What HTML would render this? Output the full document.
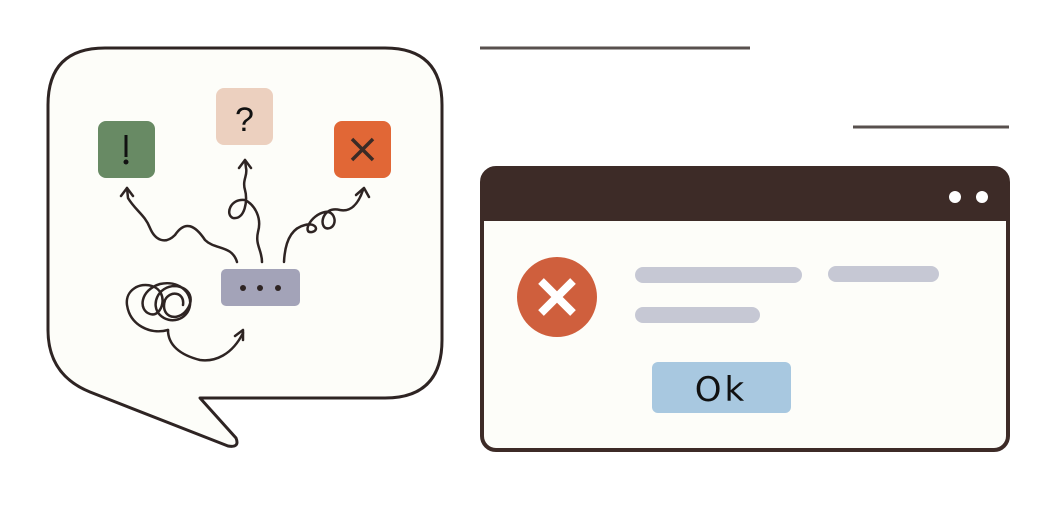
<!DOCTYPE html>
<html><head><style>
html,body{margin:0;padding:0;background:#fff;}
</style></head><body>
<svg width="1056" height="500" viewBox="0 0 1056 500" xmlns="http://www.w3.org/2000/svg">
<rect width="1056" height="500" fill="#fff"/>
<line x1="480" y1="48" x2="750" y2="48" stroke="#58504e" stroke-width="3"/>
<line x1="853" y1="127" x2="1009" y2="127" stroke="#58504e" stroke-width="3"/>
<path d="M105 48 H385 Q442 48 442 105 V340 Q442 398 385 398 H200 L236 438 Q240 448 228 446 L90 392 Q48 375 48 330 V105 Q48 48 105 48 Z" fill="#fdfdf9" stroke="#2e2423" stroke-width="3" stroke-linejoin="round"/>
<rect x="98" y="121" width="57" height="57" rx="8" fill="#688a64"/>
<rect x="124.5" y="135" width="3" height="22" fill="#111"/><circle cx="126" cy="162" r="2.5" fill="#111"/>
<rect x="216" y="88" width="57" height="57" rx="8" fill="#ecd0bf"/>
<text x="244.5" y="131" font-family="Liberation Sans,sans-serif" font-size="34" text-anchor="middle" fill="#111">?</text>
<rect x="334" y="121" width="57" height="57" rx="8" fill="#e16736"/>
<path d="M352 139 L373 160 M373 139 L352 160" stroke="#3b2b26" stroke-width="3.5"/>
<rect x="221" y="269" width="79" height="37" rx="5" fill="#a3a3b8"/>
<circle cx="243" cy="288" r="3" fill="#2e2423"/><circle cx="260" cy="288" r="3" fill="#2e2423"/><circle cx="278" cy="288" r="3" fill="#2e2423"/>
<g fill="none" stroke="#2e2423" stroke-width="2.5" stroke-linecap="round" stroke-linejoin="round">
<path d="M237 262 C232 245 215 250 205 240 C195 225 185 220 175 235 C165 245 155 240 150 228 C145 215 135 210 128 198 L127 188"/>
<path d="M121 196 L127 188 L133 196"/>
<path d="M262 262 C262 250 255 245 258 232 C262 218 255 205 245 200 C230 198 225 215 233 218 C245 220 248 200 245 190 C242 180 248 175 246 168 L245 160"/>
<path d="M239 168 L245 160 L251 168"/>
<path d="M284 262 C285 240 292 228 305 225 C315 222 320 230 312 232 C302 234 310 215 325 212 C335 210 338 225 330 228 C318 232 320 205 340 210 C350 212 358 205 363 190"/>
<path d="M356 195 L364 188 L369 197"/>
<path d="M243 333 C232 355 215 362 200 360 C180 355 168 345 168 330"/>
<path d="M168 330 C150 335 130 325 127 305 C125 290 140 282 152 286 C170 292 162 318 150 314 C138 310 140 290 160 284 C178 280 192 292 190 305 C188 320 170 325 160 315 C150 305 158 286 175 286 C190 287 196 300 185 312 C175 322 160 316 165 300 C170 290 185 292 183 305"/>
<path d="M235 336 L243 330 L243 340"/>
</g>
<rect x="482" y="168" width="526" height="282" rx="14" fill="#fdfdf9" stroke="#3d2b27" stroke-width="4"/>
<path d="M496 168 H994 Q1008 168 1008 182 V221 H482 V182 Q482 168 496 168 Z" fill="#3d2b27"/>
<circle cx="955" cy="197" r="6" fill="#fff"/><circle cx="982" cy="197" r="6" fill="#fff"/>
<circle cx="557" cy="297" r="40" fill="#cf5f3d"/>
<path d="M541 281 L573 313 M573 281 L541 313" stroke="#fff" stroke-width="8"/>
<rect x="635" y="267" width="167" height="16" rx="8" fill="#c6c8d4"/>
<rect x="828" y="266" width="111" height="16" rx="8" fill="#c6c8d4"/>
<rect x="635" y="307" width="125" height="16" rx="8" fill="#c6c8d4"/>
<rect x="652" y="362" width="139" height="51" rx="6" fill="#a8c8e0"/>
<text x="721" y="401" font-family="DejaVu Sans,Liberation Sans,sans-serif" font-size="34" letter-spacing="3" text-anchor="middle" fill="#111">Ok</text>
</svg>
</body></html>
